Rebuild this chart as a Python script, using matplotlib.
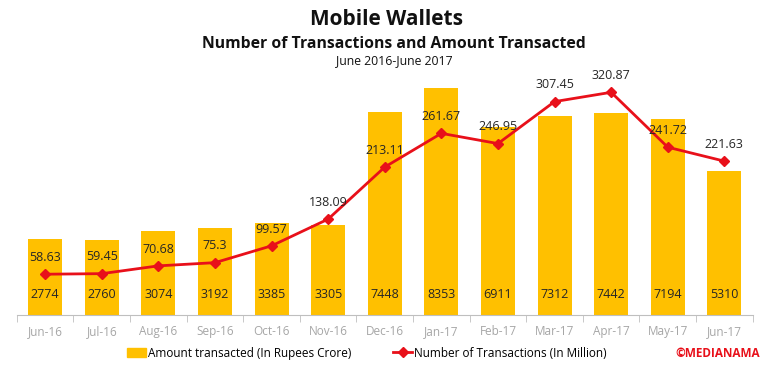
import numpy as np
import matplotlib
matplotlib.use("Agg")
import matplotlib.pyplot as plt
from matplotlib.patches import Patch
from matplotlib.lines import Line2D

months = ["Jun-16", "Jul-16", "Aug-16", "Sep-16", "Oct-16", "Nov-16", "Dec-16",
          "Jan-17", "Feb-17", "Mar-17", "Apr-17", "May-17", "Jun-17"]
amount = [2774, 2760, 3074, 3192, 3385, 3305, 7448, 8353, 6911, 7312, 7442, 7194, 5310]
transactions = [58.63, 59.45, 70.68, 75.3, 99.57, 138.09, 213.11, 261.67, 246.95,
                307.45, 320.87, 241.72, 221.63]

plt.rcParams['font.family'] = ['Open Sans', 'DejaVu Sans']
bar_col = "#FFC000"
line_col = "#E8101A"

fig = plt.figure(figsize=(7.68, 3.67), dpi=100)
ax = fig.add_axes([0.022, 0.142, 0.958, 0.654])
x = np.arange(len(months))

ax.bar(x, amount, width=0.6, color=bar_col, zorder=1)
ax.set_ylim(0, 8830)
ax.set_xlim(-0.5, len(months) - 0.5)
for xi, v in zip(x, amount):
    ax.annotate(str(v), (xi, 0), xytext=(0, 15), textcoords="offset points",
                ha="center", va="center", fontsize=9, color="#262626")

ax2 = ax.twinx()
ax2.plot(x, transactions, color=line_col, lw=2, marker="D", ms=5, zorder=3)
ax2.set_ylim(0, 346)
for xi, v in zip(x, transactions):
    ax2.annotate(f"{v:g}", (xi, v), xytext=(0, 12), textcoords="offset points",
                 ha="center", va="center", fontsize=9, color="#262626",
                 annotation_clip=False)

for a in (ax, ax2):
    for s in ("top", "right", "left"):
        a.spines[s].set_visible(False)
    a.set_yticks([])
ax.spines["bottom"].set_color("#BFBFBF")
ax2.spines["bottom"].set_visible(False)

ax.set_xticks(x)
ax.set_xticklabels(months, color="#A6A6A6", fontsize=8.5)
ax.tick_params(axis="x", length=0, pad=7)
ax.set_xticks(np.arange(-0.5, len(months)), minor=True)
ax.tick_params(axis="x", which="minor", length=5, color="#BFBFBF", direction="out")

fig.text(0.503, 0.947, "Mobile Wallets", ha="center", va="center",
         fontsize=15, fontweight="bold", color="#111111")
fig.text(0.513, 0.880, "Number of Transactions and Amount Transacted", ha="center",
         va="center", fontsize=11.3, fontweight="bold", color="#111111")
fig.text(0.513, 0.834, "June 2016-June 2017", ha="center", va="center",
         fontsize=8.8, color="#111111")

handles = [Patch(color=bar_col), Line2D([], [], color=line_col, lw=2, marker="D", ms=5)]
labels = ["Amount transacted (In Rupees Crore)", "Number of Transactions (In Million)"]
fig.legend(handles, labels, loc="center", bbox_to_anchor=(0.478, 0.038), ncol=2,
           frameon=False, fontsize=8.5, handlelength=1.6, handletextpad=0.2,
           columnspacing=3.5)
fig.text(0.99, 0.038, "©MEDIANAMA", ha="right", va="center", fontsize=8.5,
         fontweight="bold", color="#E8101A")

fig.savefig("out.png", dpi=100)
